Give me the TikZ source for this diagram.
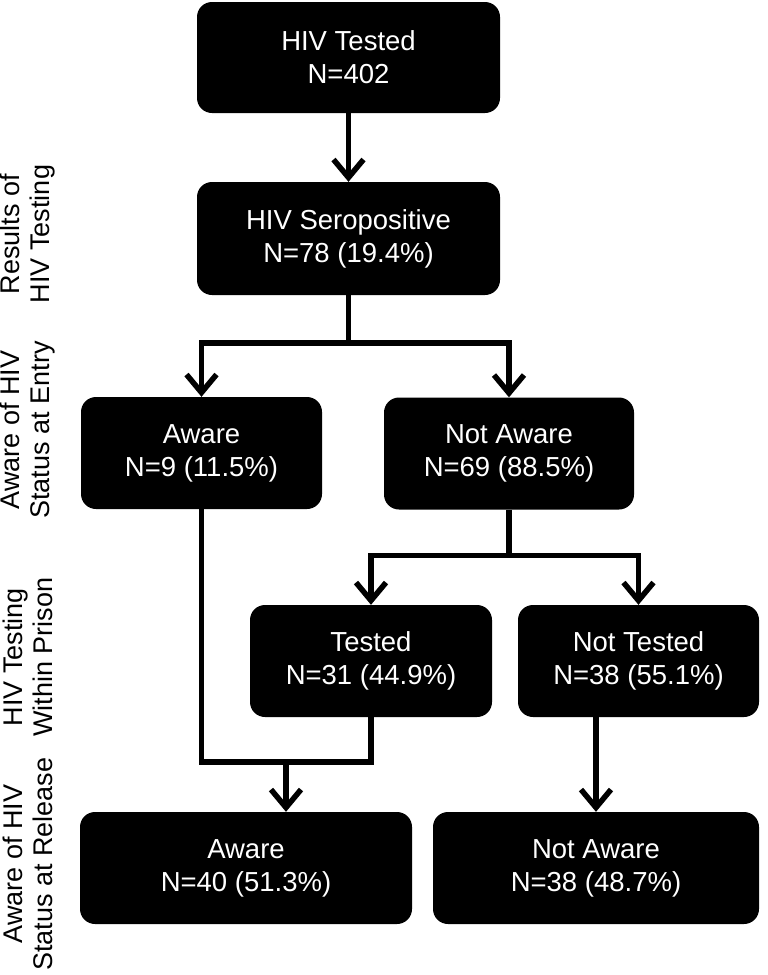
\documentclass[tikz,border=0pt]{standalone}
\usepackage{fontspec}
\setmainfont{Liberation Sans}
\usetikzlibrary{arrows.meta,calc}
\begin{document}
\begin{tikzpicture}[x=1pt,y=-1pt,
  box/.style={fill=black, rounded corners=15pt, text=white, align=center,
    inner sep=0pt, minimum height=112pt,
    font=\fontsize{27.5}{33}\selectfont},
  side/.style={rotate=90, align=center, inner sep=0pt,
    font=\fontsize{27}{30}\selectfont},
  conn/.style={line width=5.5pt},
  arr/.style={line width=5.5pt, -{Straight Barb[length=18pt,width=30pt]}}]
\useasboundingbox (0,0) rectangle (768,975);
% boxes
\node[box, minimum width=303pt, minimum height=111pt] (b1) at (348.5,57.5) {HIV Tested\\N=402};
\node[box, minimum width=303pt, minimum height=113pt] (b2) at (348.5,238.5) {HIV Seropositive\\N=78 (19.4\%)};
\node[box, minimum width=241pt] (aw1) at (201.5,453) {Aware\\N=9 (11.5\%)};
\node[box, minimum width=250pt] (na1) at (509,453.5) {Not Aware\\N=69 (88.5\%)};
\node[box, minimum width=242pt] (te) at (371,661) {Tested\\N=31 (44.9\%)};
\node[box, minimum width=241pt] (nt) at (638.5,661) {Not Tested\\N=38 (55.1\%)};
\node[box, minimum width=332pt] (aw2) at (246,868) {Aware\\N=40 (51.3\%)};
\node[box, minimum width=326pt] (na2) at (596,868) {Not Aware\\N=38 (48.7\%)};
% side labels
\node[side] (l1) at (28,234) {Results of\\HIV Testing};
\node[side] (l2) at (28,430) {Aware of HIV\\Status at Entry};
\node[side] (l3) at (28,657) {HIV Testing\\Within Prison};
\node[side] (l4) at (28,864) {Aware of HIV\\Status at Release};
% connectors
\coordinate (s1) at ($(b2.south)+(0,48)$);
\coordinate (s2) at ($(na1.south)+(0,46)$);
\coordinate (s3) at ($(aw1.south)+(0,253)$);
\coordinate (s4) at (aw2.north -| 286,0);
\draw[arr] (b1.south) -- (b2.north);
\draw[conn] (b2.south) -- (s1);
\draw[arr] (s1) -| (aw1.north);
\draw[arr] (s1) -| (na1.north);
\draw[conn] (na1.south) -- (s2);
\draw[arr] (s2) -| (te.north);
\draw[arr] (s2) -| (nt.north);
\draw[conn] (aw1.south) |- (s3 -| te.south) -- (te.south);
\draw[arr] (s3 -| s4) -- (s4);
\draw[arr] (na2.north |- nt.south) -- (na2.north);
\end{tikzpicture}
\end{document}
